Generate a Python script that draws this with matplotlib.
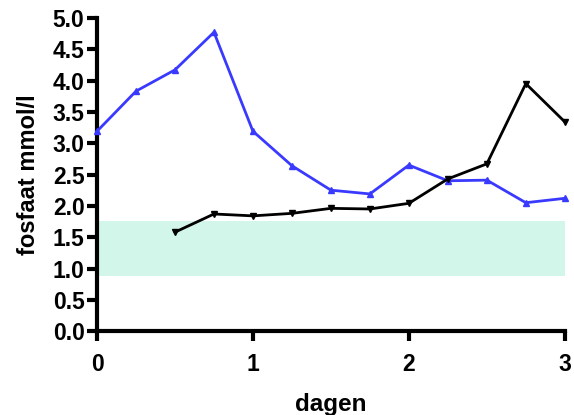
import matplotlib.pyplot as plt
import numpy as np

# data
dagen_blauw = [0, 0.25, 0.5, 0.75, 1.0, 1.25, 1.5, 1.75, 2.0, 2.25, 2.5, 2.75, 3.0]
fosfaat_blauw = [3.19, 3.83, 4.17, 4.77, 3.19, 2.64, 2.25, 2.19, 2.65, 2.40, 2.41, 2.05, 2.12]
dagen_zwart = [0.5, 0.75, 1.0, 1.25, 1.5, 1.75, 2.0, 2.25, 2.5, 2.75, 3.0]
fosfaat_zwart = [1.58, 1.87, 1.84, 1.88, 1.96, 1.95, 2.04, 2.43, 2.67, 3.95, 3.34]
normaal_band = (0.88, 1.76)
x_ticks = [0, 1, 2, 3]
y_ticks = np.arange(0, 5.01, 0.5)

plt.rcParams['font.family'] = ['Liberation Sans', 'DejaVu Sans']
plt.rcParams['font.weight'] = 'bold'

fig = plt.figure(figsize=(5.74, 4.15), dpi=100)
ax = fig.add_axes([0.169, 0.202, 0.815, 0.755])

ax.axhspan(normaal_band[0], normaal_band[1], color='#d2f6e9', lw=0, zorder=0)
ax.plot(dagen_blauw, fosfaat_blauw, color='#3a3aff', lw=2.0, marker='^', ms=5,
        clip_on=False, zorder=3)
ax.plot(dagen_zwart, fosfaat_zwart, color='black', lw=2.0, marker='v', ms=5,
        clip_on=False, zorder=4)

ax.set_xlim(0, 3)
ax.set_ylim(0, 5)
ax.set_xticks(x_ticks)
ax.set_xticklabels([str(t) for t in x_ticks])
ax.set_yticks(y_ticks)
ax.set_yticklabels(['%.1f' % t for t in y_ticks])

for side in ['top', 'right']:
    ax.spines[side].set_visible(False)
for side in ['left', 'bottom']:
    ax.spines[side].set_linewidth(3)
ax.tick_params(width=3, length=7, labelsize=16.5, pad=2)
ax.tick_params(axis='x', pad=9)

ax.set_xlabel('dagen', fontsize=17.5, fontweight='bold', labelpad=12)
ax.set_ylabel('fosfaat mmol/l', fontsize=17, fontweight='bold', labelpad=9)

fig.savefig('out.png', dpi=100)
